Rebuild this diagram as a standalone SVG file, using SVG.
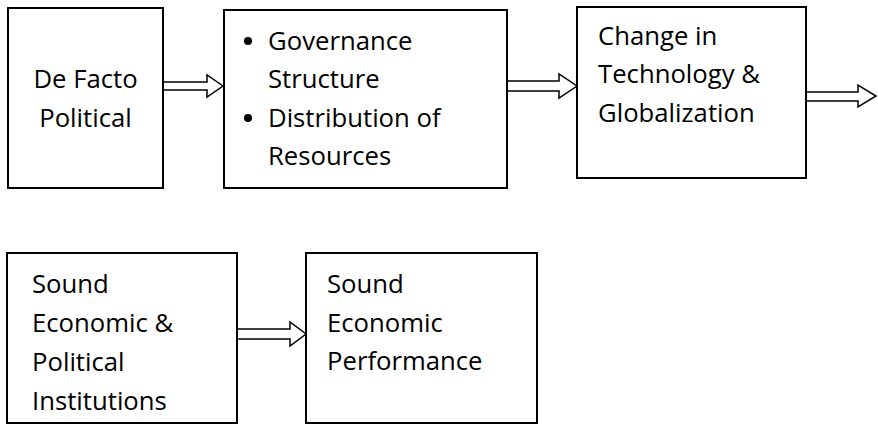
<svg xmlns="http://www.w3.org/2000/svg" width="878" height="424" viewBox="0 0 878 424">
  <style>
    .box { fill: #ffffff; stroke: #000000; stroke-width: 2; }
    .arrow { fill: #ffffff; stroke: #000000; stroke-width: 1.5; stroke-linejoin: miter; }
    .label { font-family: "Open Sans", "Liberation Sans", sans-serif; font-size: 25.7px; fill: #000000; }
    .mid { text-anchor: middle; }
  </style>
  <rect width="878" height="424" fill="#ffffff"/>

  <g id="connectors">
    <polygon class="arrow" points="163,82 207,82 207,75 223,86 207,97 207,90 163,90"/>
    <polygon class="arrow" points="507,81 559,81 559,74 577,86 559,98 559,91 507,91"/>
    <polygon class="arrow" points="806,92 858,92 858,85 876,96 858,107 858,101 806,101"/>
    <polygon class="arrow" points="237,329 290,329 290,322 306,334 290,346 290,339 237,339"/>
  </g>

  <g id="de-facto-political">
    <rect class="box" x="8" y="8" width="155" height="180"/>
    <text class="label mid" x="85.5" y="88">De Facto</text>
    <text class="label mid" x="85.5" y="127">Political</text>
  </g>

  <g id="governance-resources">
    <rect class="box" x="224" y="10" width="283" height="178"/>
    <circle cx="248" cy="41" r="4"/>
    <circle cx="248" cy="118" r="4"/>
    <text class="label" x="268" y="50">Governance</text>
    <text class="label" x="268" y="88">Structure</text>
    <text class="label" x="268" y="127">Distribution of</text>
    <text class="label" x="268" y="165">Resources</text>
  </g>

  <g id="technology-globalization">
    <rect class="box" x="577" y="7" width="229" height="171"/>
    <text class="label" x="598" y="45">Change in</text>
    <text class="label" x="598" y="83">Technology &amp;</text>
    <text class="label" x="598" y="122">Globalization</text>
  </g>

  <g id="sound-institutions">
    <rect class="box" x="7" y="253" width="230" height="170"/>
    <text class="label" x="32" y="293">Sound</text>
    <text class="label" x="32" y="332">Economic &amp;</text>
    <text class="label" x="32" y="371">Political</text>
    <text class="label" x="32" y="410">Institutions</text>
  </g>

  <g id="sound-performance">
    <rect class="box" x="306" y="253" width="231" height="170"/>
    <text class="label" x="327" y="293">Sound</text>
    <text class="label" x="327" y="332">Economic</text>
    <text class="label" x="327" y="370">Performance</text>
  </g>
</svg>
